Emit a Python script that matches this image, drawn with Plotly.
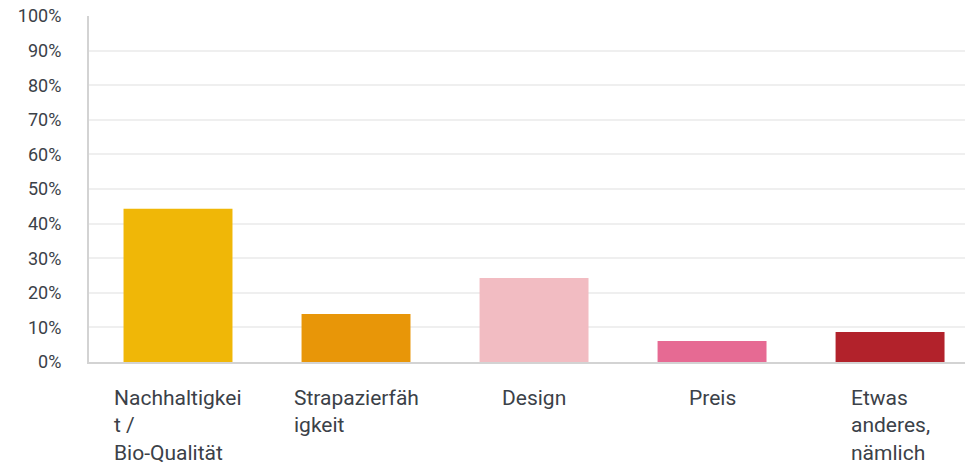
import plotly.graph_objects as go

categories = ["Nachhaltigkeit / Bio-Qualität", "Strapazierfähigkeit", "Design", "Preis",
              "Etwas anderes, nämlich"]
label_lines = ["Nachhaltigkei<br>t /<br>Bio-Qualität", "Strapazierfäh<br>igkeit", "Design",
               "Preis", "Etwas<br>anderes,<br>nämlich"]
shares = [0.443, 0.139, 0.243, 0.061, 0.087]
colors = ["#F0B707", "#E89608", "#F2BCC2", "#E66A93", "#B2222B"]

TEXT = "#3B4148"
FONT = "Roboto"

fig = go.Figure(go.Bar(
    x=list(range(len(categories))), y=shares,
    marker=dict(color=colors, line=dict(width=0)),
    width=0.612, hovertext=categories, hoverinfo="text+y",
))

for i, lab in enumerate(label_lines):
    fig.add_annotation(
        x=i, y=0, xref="x", yref="paper", text=lab, showarrow=False,
        xanchor="center", yanchor="top", align="left", yshift=-22,
        font=dict(family=FONT, size=21, color=TEXT),
    )

fig.update_layout(
    width=965, height=471,
    margin=dict(l=89, r=0, t=16, b=109),
    paper_bgcolor="white", plot_bgcolor="white",
    showlegend=False,
    font=dict(family=FONT, size=18, color=TEXT),
)
# last category runs past the right edge, as in the original
fig.update_xaxes(
    range=[-0.5, 4.421], showticklabels=False, showgrid=False, zeroline=False,
    showline=True, linecolor="#D3D3D3", linewidth=2, automargin=False,
)
fig.update_yaxes(
    range=[0, 1], dtick=0.1, tickformat=".0%", showgrid=True, gridcolor="#EFEFEF",
    gridwidth=1.5, zeroline=False, showline=True, linecolor="#D3D3D3", linewidth=2,
    ticklabelstandoff=22, tickfont=dict(family=FONT, size=18, color=TEXT),
    automargin=False, ticklabeloverflow="allow",
)

# drop the default 8px body margin so the figure sits flush in the window
fig.write_html("out.html", config={"displayModeBar": False},
               post_script="document.body.style.margin='0';")
